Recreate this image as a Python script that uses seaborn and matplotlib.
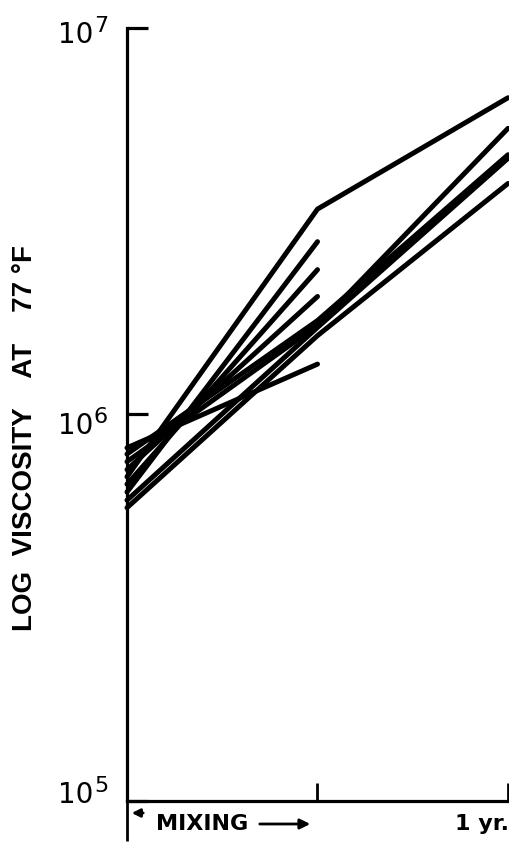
import numpy as np
import pandas as pd
import matplotlib
matplotlib.use("Agg")
import matplotlib.pyplot as plt
import seaborn as sns

# Viscosity (poises at 77 F) of each sample: as received, after mixing, after 1 year
stages = [0, 1, 2]
samples = ["A", "B", "C", "D", "E", "F", "G", "H", "I"]
original = [8.2e5, 7.9e5, 7.55e5, 7.2e5, 6.9e5, 6.6e5, 6.3e5, 6.0e5, 5.74e5]
after_mixing = [1.35e6, 1.75e6, 1.70e6, 2.02e6, 3.4e6, 2.37e6, 2.8e6, 1.68e6, 1.60e6]
one_year = [np.nan, 4.7e6, 5.5e6, np.nan, 6.6e6, np.nan, np.nan, 4.6e6, 3.96e6]

y_ticks = [1e5, 1e6, 1e7]
y_tick_base = ["10", "10", "10"]
y_tick_exp = ["5", "6", "7"]

rows = []
for s, v0, v1, v2 in zip(samples, original, after_mixing, one_year):
    for st, v in zip(stages, (v0, v1, v2)):
        if not np.isnan(v):
            rows.append({"sample": s, "stage": st, "viscosity": v})
df = pd.DataFrame(rows)

sns.set_style("ticks")
plt.rcParams["font.family"] = ["Liberation Sans", "DejaVu Sans"]
plt.rcParams["text.color"] = "black"

W, H = 510, 844
fig = plt.figure(figsize=(W / 100, H / 100), dpi=100)
ax = fig.add_axes([127 / W, 1 - 801 / H, (508 - 127) / W, (801 - 28) / H])

sns.lineplot(data=df, x="stage", y="viscosity", units="sample", estimator=None,
             color="black", lw=3.6, ax=ax, legend=False,
             solid_capstyle="round", solid_joinstyle="round", clip_on=False)

ax.set_yscale("log")
ax.set_ylim(1e5, 1e7)
ax.set_xlim(0, 2)
ax.set_xlabel("")
ax.set_ylabel("")

for side in ("top", "right"):
    ax.spines[side].set_visible(False)
for side in ("left", "bottom"):
    ax.spines[side].set_linewidth(2.3)
    ax.spines[side].set_color("black")

ax.set_yticks(y_ticks)
ax.set_yticklabels([])
ax.yaxis.set_minor_locator(matplotlib.ticker.NullLocator())
ax.tick_params(axis="y", direction="in", length=15, width=2.3, color="black")

# power-of-ten labels, drawn as base plus raised exponent
base_drop = {1e5: 2, 1e6: 20, 1e7: 15}
for v, b, e in zip(y_ticks, y_tick_base, y_tick_exp):
    ax.annotate(b, xy=(0, v), xycoords=("axes fraction", "data"),
                xytext=(-34, -base_drop[v]), textcoords="offset pixels",
                ha="right", va="baseline", fontsize=20, family="DejaVu Sans",
                color="black", annotation_clip=False)
    ax.annotate(e, xy=(0, v), xycoords=("axes fraction", "data"),
                xytext=(-33, -base_drop[v] + 11), textcoords="offset pixels",
                ha="left", va="baseline", fontsize=16, family="DejaVu Sans",
                color="black", annotation_clip=False)

ax.set_xticks([1, 2])
ax.set_xticklabels(["", ""])
ax.set_xticks([0, 1], minor=True)
ax.tick_params(axis="x", which="major", direction="in", length=13, width=2.0,
               color="black")
ax.tick_params(axis="x", which="minor", direction="out", length=29, width=2.0,
               color="black")

# Stage annotations below the axis
ty = 1 - 824 / H
fig.text(202 / W, ty, "MIXING", ha="center", va="center", fontsize=16,
         fontweight="bold", family="DejaVu Sans", color="black")
fig.text(509 / W, ty, "1 yr.", ha="right", va="center", fontsize=16,
         fontweight="bold", family="DejaVu Sans", color="black")
ax.annotate("", xy=(313 / W, ty), xytext=(257 / W, ty), xycoords="figure fraction",
            textcoords="figure fraction",
            arrowprops=dict(arrowstyle="-|>", lw=2.0, color="black", mutation_scale=15))
ty2 = 1 - 813 / H
ax.annotate("", xy=(129 / W, ty2), xytext=(146 / W, ty2), xycoords="figure fraction",
            textcoords="figure fraction",
            arrowprops=dict(arrowstyle="-|>", lw=2.0, color="black", mutation_scale=12))

fig.text(25 / W, 1 - 438 / H, "LOG  VISCOSITY    AT    77 °F", rotation=90,
         ha="center", va="center", fontsize=20, fontweight="bold", color="black")

fig.savefig("out.png", dpi=100, facecolor="white")
